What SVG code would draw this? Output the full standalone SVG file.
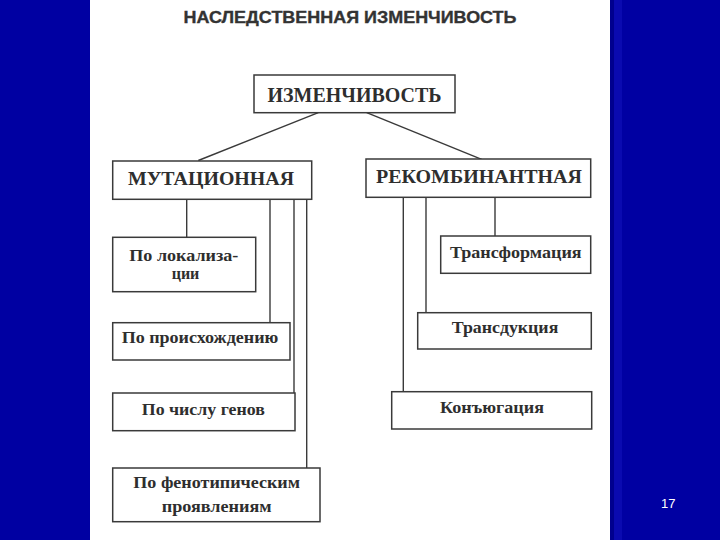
<svg xmlns="http://www.w3.org/2000/svg" width="720" height="540" viewBox="0 0 720 540">
<style>
.box{fill:#fff;stroke:#3a3a3a;stroke-width:1.5}
.t{font-family:"Liberation Serif","DejaVu Serif",serif;font-weight:bold;fill:#2e2e2e;text-anchor:middle}
.big{font-size:19px}
.sm{font-size:16.5px}
.ln{stroke:#3a3a3a;stroke-width:1.4;fill:none}
</style>
<rect x="0" y="0" width="720" height="540" fill="#0000A2"/>
<rect x="610" y="0" width="4" height="540" fill="#00008E"/>
<rect x="614" y="0" width="8" height="540" fill="#0A0AB0"/>
<rect x="90" y="0" width="520" height="540" fill="#ffffff"/>
<text x="350" y="23.3" font-family="Liberation Sans, Arial, sans-serif" font-weight="bold" font-size="16.5" fill="#333" stroke="#333" stroke-width="0.35" text-anchor="middle" textLength="333" lengthAdjust="spacingAndGlyphs">НАСЛЕДСТВЕННАЯ ИЗМЕНЧИВОСТЬ</text>
<g id="connectors">
<line class="ln" x1="318.3" y1="112.7" x2="198.3" y2="160.5"/>
<line class="ln" x1="366.7" y1="112.7" x2="481.7" y2="159.3"/>
<line class="ln" x1="186.7" y1="199.3" x2="186.7" y2="237.3"/>
<line class="ln" x1="270" y1="199.3" x2="270" y2="322.7"/>
<line class="ln" x1="294" y1="199.3" x2="294" y2="393"/>
<line class="ln" x1="306.7" y1="199.3" x2="306.7" y2="468"/>
<line class="ln" x1="495" y1="197.3" x2="495" y2="236"/>
<line class="ln" x1="426" y1="197.3" x2="426" y2="312.7"/>
<line class="ln" x1="403.3" y1="197.3" x2="403.3" y2="391.7"/>
</g>
<g id="n-izm">
<rect class="box" x="254" y="75" width="201" height="37.7"/>
<text class="t" x="354.5" y="101.7" font-size="20" textLength="174" lengthAdjust="spacingAndGlyphs">ИЗМЕНЧИВОСТЬ</text>
</g>
<g id="n-mut">
<rect class="box" x="112.7" y="161" width="199" height="38.3"/>
<text class="t big" x="211" y="185" textLength="166" lengthAdjust="spacingAndGlyphs">МУТАЦИОННАЯ</text>
</g>
<g id="n-rek">
<rect class="box" x="366" y="159" width="224.7" height="38.3"/>
<text class="t big" x="479" y="183.3" textLength="206" lengthAdjust="spacingAndGlyphs">РЕКОМБИНАНТНАЯ</text>
</g>
<g id="n-lok">
<rect class="box" x="112.7" y="237.3" width="143" height="54.4"/>
<text class="t" x="183.8" y="260.5" font-size="16" textLength="109" lengthAdjust="spacingAndGlyphs">По локализа-</text>
<text class="t" x="185.5" y="279.2" font-size="16">ции</text>
</g>
<g id="n-proish">
<rect class="box" x="112.7" y="322.7" width="177.3" height="37.3"/>
<text class="t sm" x="200" y="343.3" textLength="156.7" lengthAdjust="spacingAndGlyphs">По происхождению</text>
</g>
<g id="n-chislo">
<rect class="box" x="112.7" y="393" width="182.3" height="37.7"/>
<text class="t sm" x="203.3" y="415" textLength="123" lengthAdjust="spacingAndGlyphs">По числу генов</text>
</g>
<g id="n-fen">
<rect class="box" x="112.7" y="468" width="207.3" height="53.7"/>
<text class="t sm" x="216.7" y="488.3" textLength="166.7" lengthAdjust="spacingAndGlyphs">По фенотипическим</text>
<text class="t sm" x="216.7" y="511.7" textLength="110" lengthAdjust="spacingAndGlyphs">проявлениям</text>
</g>
<g id="n-transf">
<rect class="box" x="440.7" y="236" width="150" height="37.3"/>
<text class="t sm" x="515.8" y="258.3" textLength="131.7" lengthAdjust="spacingAndGlyphs">Трансформация</text>
</g>
<g id="n-transd">
<rect class="box" x="417.7" y="312.7" width="173.6" height="36.3"/>
<text class="t sm" x="505" y="333.3" textLength="106.6" lengthAdjust="spacingAndGlyphs">Трансдукция</text>
</g>
<g id="n-konj">
<rect class="box" x="391.7" y="391.7" width="200" height="37.3"/>
<text class="t sm" x="492" y="413.3" textLength="104" lengthAdjust="spacingAndGlyphs">Конъюгация</text>
</g>
<text x="668.3" y="508" font-family="Liberation Sans, Arial, sans-serif" font-size="13" fill="#ffffff" text-anchor="middle">17</text>
</svg>
